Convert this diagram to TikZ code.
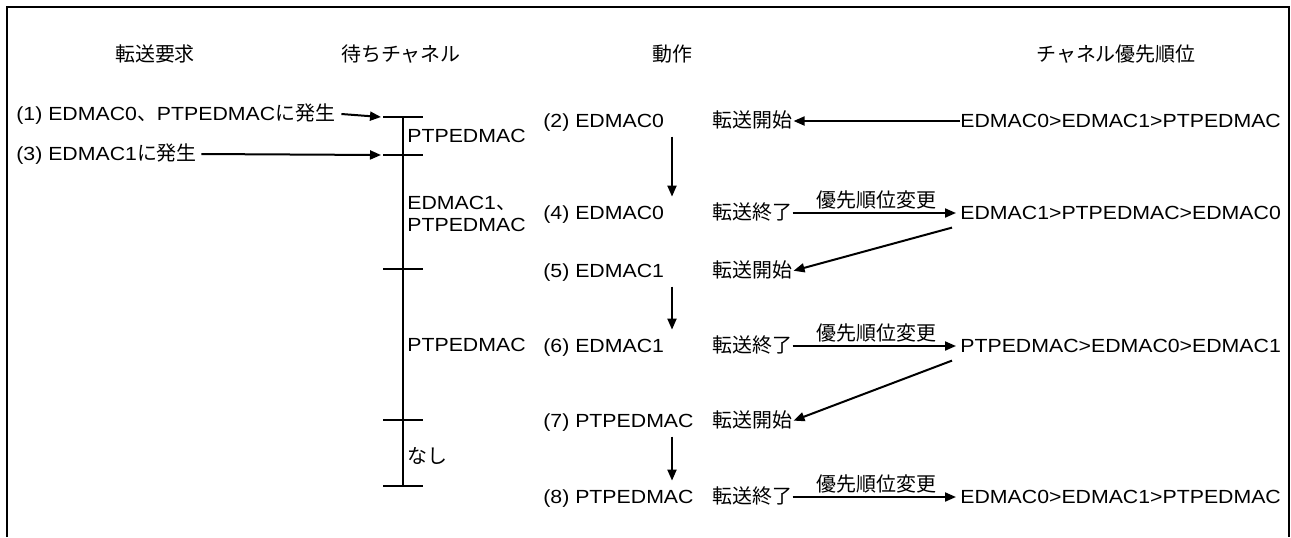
\documentclass[tikz,border=0pt]{standalone}
\usepackage{fontspec}
\setmainfont{Liberation Sans}[FakeStretch=1.12]
\newfontfamily\cjk{Noto Sans CJK JP}[Scale=1.05]
\newcommand{\jp}[1]{{\cjk #1}}
\usetikzlibrary{arrows.meta}

\begin{document}
\begin{tikzpicture}[x=0.5pt,y=-0.5pt]
  \tikzstyle{lbl} = [inner sep=0pt, text height=8pt, text depth=1.2pt, font=\fontsize{9.5}{11}\selectfont]
  \tikzstyle{arrow} = [line width=1pt, -{Triangle[length=5.5pt,width=4.5pt]}]
  \tikzstyle{tickline} = [line width=1pt]

  \useasboundingbox (0,0) rectangle (1291,537);
  \draw[line width=1.4pt] (7,537) -- (7,7) -- (1289,7) -- (1289,537);

  \node (hreq) [lbl] at (155,55) {\jp{転送要求}};
  \node (hwait) [lbl] at (401,55) {\jp{待ちチャネル}};
  \node (hact) [lbl] at (672,55) {\jp{動作}};
  \node (hprio) [lbl] at (1116,55) {\jp{チャネル優先順位}};

  \node (req1) [lbl, anchor=west] at (16,114) {(1) EDMAC0\jp{、}PTPEDMAC\jp{に発生}};
  \node (req3) [lbl, anchor=west] at (16,154) {(3) EDMAC1\jp{に発生}};

  \coordinate (t1) at (403,117);
  \coordinate (t2) at (403,155);
  \coordinate (t3) at (403,269);
  \coordinate (t4) at (403,420);
  \coordinate (t5) at (403,486);
  \draw[tickline] (t1) -- (t5);
  \foreach \i in {1,...,5}
    \draw[tickline] (t\i) ++(-20,0) -- ++(40,0);

  \draw[arrow] ([xshift=3pt]req1.east) -- ([xshift=-11pt]t1);
  \draw[arrow] ([xshift=2pt]req3.east) -- ([xshift=-11pt]t2);

  \node (w1) [lbl, anchor=west] at (407,136) {PTPEDMAC};
  \node (w2a) [lbl, anchor=west] at (407,203) {EDMAC1\jp{、}};
  \node (w2b) [lbl, anchor=west] at (407,225) {PTPEDMAC};
  \node (w3) [lbl, anchor=west] at (407,345) {PTPEDMAC};
  \node (w4) [lbl, anchor=west] at (407,457) {\jp{なし}};

  \node (a2) [lbl, anchor=west] at (543,121) {(2) EDMAC0};
  \node (a4) [lbl, anchor=west] at (543,213) {(4) EDMAC0};
  \node (a5) [lbl, anchor=west] at (543,271) {(5) EDMAC1};
  \node (a6) [lbl, anchor=west] at (543,346) {(6) EDMAC1};
  \node (a7) [lbl, anchor=west] at (543,421) {(7) PTPEDMAC};
  \node (a8) [lbl, anchor=west] at (543,497) {(8) PTPEDMAC};

  \node (e2) [lbl, anchor=west] at (712,121) {\jp{転送開始}};
  \node (e4) [lbl, anchor=west] at (712,213) {\jp{転送終了}};
  \node (e5) [lbl, anchor=west] at (712,271) {\jp{転送開始}};
  \node (e6) [lbl, anchor=west] at (712,346) {\jp{転送終了}};
  \node (e7) [lbl, anchor=west] at (712,421) {\jp{転送開始}};
  \node (e8) [lbl, anchor=west] at (712,497) {\jp{転送終了}};

  \node (p1) [lbl, anchor=west] at (960,121) {EDMAC0>EDMAC1>PTPEDMAC};
  \node (p4) [lbl, anchor=west] at (960,213) {EDMAC1>PTPEDMAC>EDMAC0};
  \node (p6) [lbl, anchor=west] at (960,346) {PTPEDMAC>EDMAC0>EDMAC1};
  \node (p8) [lbl, anchor=west] at (960,497) {EDMAC0>EDMAC1>PTPEDMAC};

  \draw[arrow, shorten <=3pt, shorten >=3.4pt] (hact |- a2.south) -- (hact |- a4.north);
  \draw[arrow, shorten <=3pt, shorten >=3.4pt] (hact |- a5.south) -- (hact |- a6.north);
  \draw[arrow, shorten <=3pt, shorten >=3.4pt] (hact |- a7.south) -- (hact |- a8.north);

  \draw[arrow, shorten >=0.5pt] (p1.west) -- (e2.east);
  \draw[arrow, shorten >=2pt] (e4.east) -- node[lbl, above, inner sep=1pt] {\jp{優先順位変更}} (p4.west);
  \draw[arrow, shorten >=2pt] (e6.east) -- node[lbl, above, inner sep=1pt] {\jp{優先順位変更}} (p6.west);
  \draw[arrow, shorten >=2pt] (e8.east) -- node[lbl, above, inner sep=1pt] {\jp{優先順位変更}} (p8.west);
  \draw[arrow, shorten >=0.5pt] ([shift={(-8,5)}]p4.south west) -- (e5.east);
  \draw[arrow, shorten >=0.5pt] ([shift={(-8,5)}]p6.south west) -- (e7.east);
\end{tikzpicture}
\end{document}
